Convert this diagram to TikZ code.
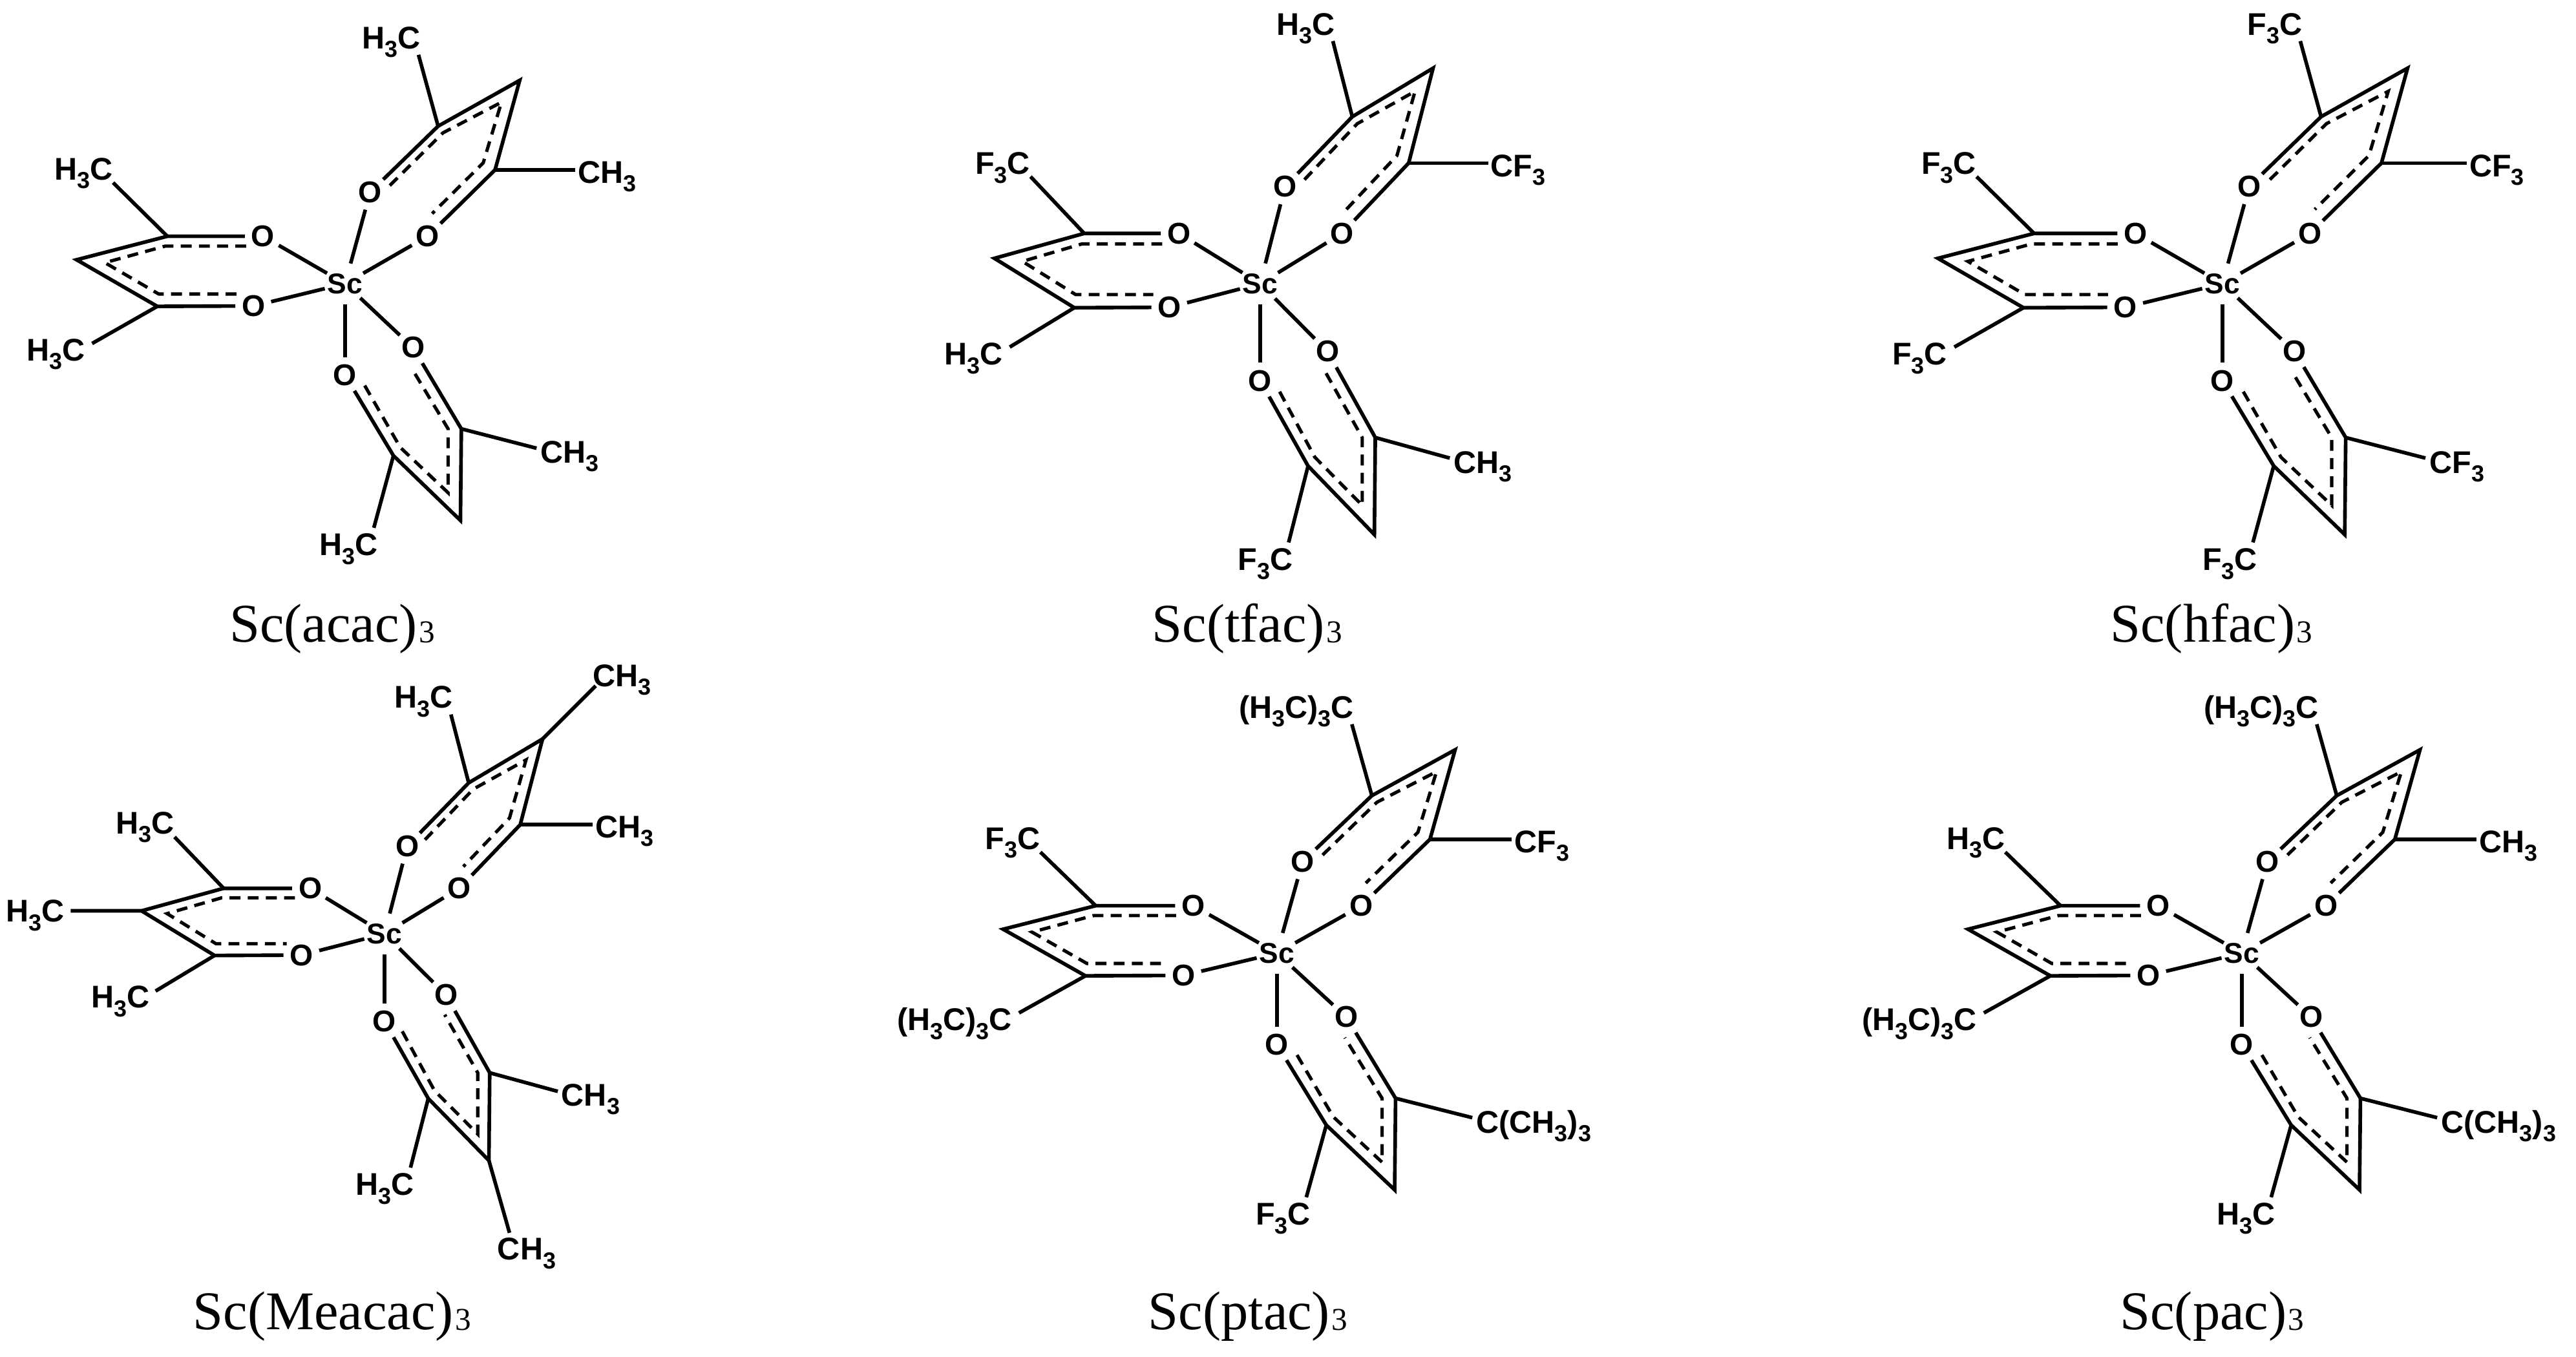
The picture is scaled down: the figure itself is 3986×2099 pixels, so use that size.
\documentclass[tikz,border=0pt]{standalone}
\usepackage{fontspec}
\setmainfont{Liberation Serif}
\newfontfamily\chemfont{Liberation Sans Bold}
\newcommand{\lsub}[1]{\raisebox{-0.28em}{\fontsize{10.2pt}{11pt}\selectfont #1}}
\newcommand{\capthree}{\hspace{0.03em}\raisebox{-0.02em}{\fontsize{14pt}{15pt}\selectfont 3}}
\newcommand{\slab}[6]{\def\lbA{#1}\def\lbB{#2}\def\lbC{#3}\def\lbD{#4}\def\lbE{#5}\def\lbF{#6}}
\newcommand{\HC}{H\lsub{3}C}
\newcommand{\CH}{CH\lsub{3}}
\newcommand{\FC}{F\lsub{3}C}
\newcommand{\CF}{CF\lsub{3}}
\newcommand{\TL}{(H\lsub{3}C)\lsub{3}C}
\newcommand{\TR}{C(CH\lsub{3})\lsub{3}}
\tikzset{
  bond/.style={line width=1.6pt,line join=miter,miter limit=20,black},
  deloc/.style={line width=1.45pt,line join=miter,miter limit=20,dash pattern=on 4.8pt off 3.2pt,black},
  oxy/.style={circle,inner sep=0pt,minimum size=15.6pt,font=\chemfont\fontsize{13.2pt}{14pt}\selectfont},
  metal/.style={circle,inner sep=0pt,minimum size=18pt,font=\chemfont\fontsize{12.6pt}{13pt}\selectfont},
  subst/.style={inner sep=0pt,font=\chemfont\fontsize{13.8pt}{14pt}\selectfont},
  molname/.style={inner sep=0pt,anchor=base,font=\fontsize{24pt}{26pt}\selectfont}
}
\newcommand{\mol}[5]{%
\begin{scope}[shift={(#2,#3)},x={#4*0.00705cm},y={-#5*0.00638cm}]
 \node[metal] (#1Sc) at (0,0) {Sc};
 \node[oxy] (#1O1) at (55,-222) {O};
 \node[oxy] (#1O2) at (181,-115) {O};
 \node[oxy] (#1O3) at (-180,-115) {O};
 \node[oxy] (#1O4) at (-201,54) {O};
 \node[oxy] (#1O5) at (0,222) {O};
 \node[oxy] (#1O6) at (149,155) {O};
 \coordinate (#1C1) at (204,-382); \coordinate (#1T1) at (383,-493); \coordinate (#1C2) at (329,-276);
 \coordinate (#1C3) at (-390,-115); \coordinate (#1T2) at (-589,-58); \coordinate (#1C4) at (-412,55);
 \coordinate (#1C5) at (106,417); \coordinate (#1T3) at (253,574); \coordinate (#1C6) at (255,352);
 \coordinate (#1E1) at (161,-555); \coordinate (#1E2) at (505,-276);
 \coordinate (#1E3) at (-509,-245); \coordinate (#1E4) at (-555,145);
 \coordinate (#1E5) at (63,592); \coordinate (#1E6) at (420,399);
 \coordinate (#1a1) at (98,-238); \coordinate (#1a2) at (215,-366); \coordinate (#1a3) at (343,-440); \coordinate (#1a4) at (303,-293); \coordinate (#1a5) at (191,-170);
 \coordinate (#1b1) at (-217,-91); \coordinate (#1b2) at (-395,-91); \coordinate (#1b3) at (-527,-51); \coordinate (#1b4) at (-409,25); \coordinate (#1b5) at (-237,25);
 \coordinate (#1c1) at (43,247); \coordinate (#1c2) at (121,397); \coordinate (#1c3) at (226,507); \coordinate (#1c4) at (226,352); \coordinate (#1c5) at (146,205);
 \node[subst,anchor=south east] (#1L1) at ([shift={(5,8)}]#1E1) {\lbA};
 \node[subst,anchor=west] (#1L2) at ([shift={(5,16)}]#1E2) {\lbB};
 \node[subst,anchor=south east] (#1L3) at ([shift={(0,16)}]#1E3) {\lbC};
 \node[subst,anchor=east] (#1L4) at ([shift={(-14,26)}]#1E4) {\lbD};
 \node[subst,anchor=north east] (#1L5) at ([shift={(10,13)}]#1E5) {\lbE};
 \node[subst,anchor=west] (#1L6) at ([shift={(8,20)}]#1E6) {\lbF};
 \draw[bond] (#1Sc)--(#1O1); \draw[bond] (#1Sc)--(#1O2); \draw[bond] (#1Sc)--(#1O3);
 \draw[bond] (#1Sc)--(#1O4); \draw[bond] (#1Sc)--(#1O5); \draw[bond] (#1Sc)--(#1O6);
 \draw[bond] (#1O1)--(#1C1)--(#1T1)--(#1C2)--(#1O2);
 \draw[bond] (#1O3)--(#1C3)--(#1T2)--(#1C4)--(#1O4);
 \draw[bond] (#1O5)--(#1C5)--(#1T3)--(#1C6)--(#1O6);
 \draw[bond] (#1C1)--(#1E1); \draw[bond] (#1C2)--(#1E2);
 \draw[bond] (#1C3)--(#1E3); \draw[bond] (#1C4)--(#1E4);
 \draw[bond] (#1C5)--(#1E5); \draw[bond] (#1C6)--(#1E6);
 \draw[deloc] (#1a1)--(#1a2)--(#1a3)--(#1a4)--(#1a5);
 \draw[deloc] (#1b1)--(#1b2)--(#1b3)--(#1b4)--(#1b5);
 \draw[deloc] (#1c1)--(#1c2)--(#1c3)--(#1c4)--(#1c5);
\end{scope}}
\begin{document}
\begin{tikzpicture}[x=0.01cm,y=-0.01cm]
\useasboundingbox (0,0) rectangle (3986,2099);
\slab{\HC}{\CH}{\HC}{\HC}{\HC}{\CH}
\mol{a}{534}{439}{1}{1}
\slab{\HC}{\CF}{\FC}{\HC}{\FC}{\CH}
\mol{t}{1950}{439}{0.99}{1.06}
\slab{\FC}{\CF}{\FC}{\FC}{\FC}{\CF}
\mol{h}{3439}{439}{1.06}{1.06}
\slab{\HC}{\CH}{\HC}{\HC}{\HC}{\CH}
\mol{m}{595}{1445}{0.905}{0.958}
\slab{\TL}{\CF}{\FC}{\TL}{\FC}{\TR}
\mol{p}{1976}{1475}{1.02}{1}
\slab{\TL}{\CH}{\HC}{\TL}{\HC}{\TR}
\mol{q}{3469}{1475}{1.02}{1}
% extra methyls of Sc(Meacac)3
\coordinate (mX1) at (921.7,1061.3);
\coordinate (mX2) at (109.3,1409.5);
\coordinate (mX3) at (788.4,1907.8);
\node[subst,anchor=south west] (mY1) at (917,1077) {\CH};
\node[subst,anchor=east] (mY2) at (100,1417) {\HC};
\node[subst,anchor=north] (mY3) at (815,1915) {\CH};
\draw[bond] (mT1)--(mX1); \draw[bond] (mT2)--(mX2); \draw[bond] (mT3)--(mX3);
% captions
\node[molname] (na) at (514,993) {Sc(acac)\capthree};
\node[molname] (nt) at (1930,993) {Sc(tfac)\capthree};
\node[molname] (nh) at (3422,993) {Sc(hfac)\capthree};
\node[molname] (nm) at (514,2057) {Sc(Meacac)\capthree};
\node[molname] (np) at (1931,2057) {Sc(ptac)\capthree};
\node[molname] (nq) at (3423,2057) {Sc(pac)\capthree};
\end{tikzpicture}
\end{document}
